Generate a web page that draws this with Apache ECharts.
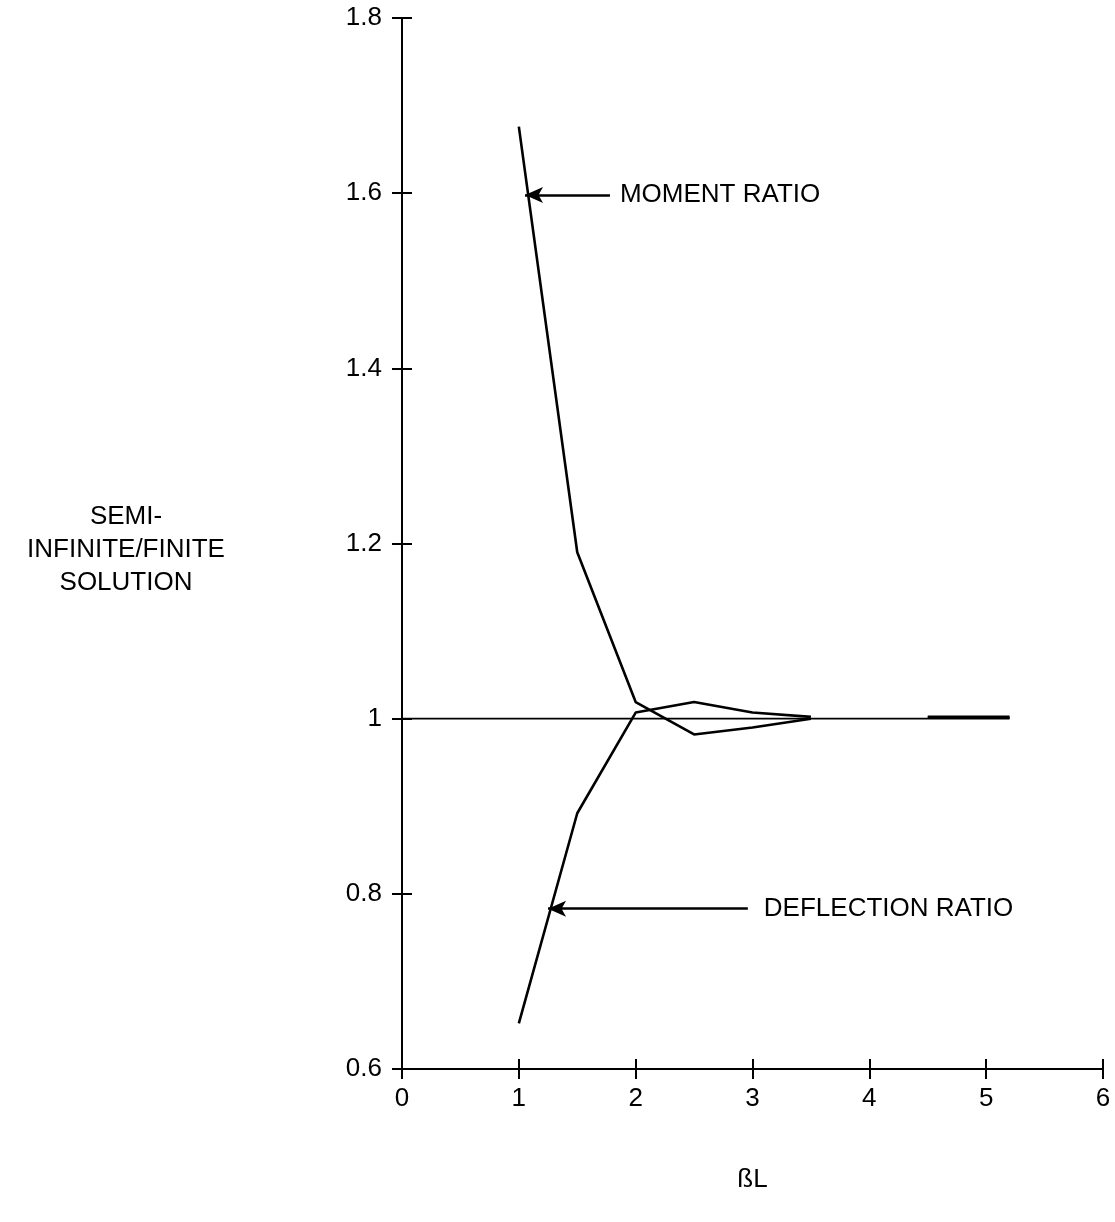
<!DOCTYPE html>
<html><head><meta charset="utf-8">
<script src="https://cdn.jsdelivr.net/npm/echarts@6/dist/echarts.min.js"></script>
<style>html,body{margin:0;padding:0;background:#fff}#c{width:1115px;height:1222px}</style>
</head><body><div id="c"></div>
<script>
// Data
const betaL      = [1, 1.5, 2, 2.5, 3, 3.5, 4, 4.5, 5.2];
const momentRatio     = [1.676, 1.19, 1.019, 0.982, 0.99, 1.0, '-', 1.002, 1.002];
const deflectionRatio = [0.652, 0.892, 1.007, 1.019, 1.007, 1.002, '-', 1.001, 1.001];
const baselineX = [0, 5.2];
const baselineY = [1, 1];
const xTicks = {min: 0, max: 6, interval: 1};
const yTicks = {min: 0.6, max: 1.8, interval: 0.2};
const momentArrow = {tip: [1.053, 1.598], tail: [1.78, 1.598], label: 'MOMENT RATIO', gap: 10};
const deflArrow = {tip: [1.25, 0.783], tail: [2.96, 0.783], label: 'DEFLECTION RATIO', gap: 16};

const FONT = '"Liberation Sans", Arial, Helvetica, sans-serif';
const pairs = (xs, ys) => xs.map((x, i) => [x, ys[i]]);
const arrowLine = (a) => ({
  silent: true,
  symbol: ['arrow', 'none'],
  symbolSize: [12, 18],
  lineStyle: {color: '#000', width: 2.5, type: 'solid'},
  label: {show: true, position: 'end', formatter: a.label, color: '#000', fontFamily: FONT, fontSize: 26, distance: a.gap},
  data: [[{coord: a.tip}, {coord: a.tail}]]
});

const chart = echarts.init(document.getElementById('c'), null, {renderer: 'canvas'});
const axisBase = {
  axisLine: {show: true, onZero: false, lineStyle: {color: '#000', width: 2}},
  splitLine: {show: false}
};
chart.setOption({
  animation: false,
  backgroundColor: '#fff',
  grid: {left: 402, right: 12, top: 18, bottom: 153},
  xAxis: [
    Object.assign({}, axisBase, {type: 'value', min: xTicks.min, max: xTicks.max, interval: xTicks.interval,
      axisTick: {show: true, length: 10, lineStyle: {color: '#000', width: 2}},
      axisLabel: {color: '#000', fontFamily: FONT, fontSize: 26, margin: 17},
      name: 'ßL', nameLocation: 'middle', nameGap: 98,
      nameTextStyle: {color: '#000', fontFamily: FONT, fontSize: 26}}),
    Object.assign({}, axisBase, {type: 'value', min: xTicks.min, max: xTicks.max, interval: xTicks.interval, position: 'bottom',
      axisTick: {show: true, inside: true, length: 10, lineStyle: {color: '#000', width: 2}},
      axisLabel: {show: false}})
  ],
  yAxis: [
    Object.assign({}, axisBase, {type: 'value', min: yTicks.min, max: yTicks.max, interval: yTicks.interval,
      axisTick: {show: true, length: 10, lineStyle: {color: '#000', width: 2}},
      axisLabel: {color: '#000', fontFamily: FONT, fontSize: 26, margin: 20}}),
    Object.assign({}, axisBase, {type: 'value', min: yTicks.min, max: yTicks.max, interval: yTicks.interval, position: 'left',
      axisTick: {show: true, inside: true, length: 10, lineStyle: {color: '#000', width: 2}},
      axisLabel: {show: false}})
  ],
  graphic: [{
    type: 'text', left: 6, top: 500,
    style: {text: 'SEMI-\nINFINITE/FINITE\nSOLUTION', fill: '#000', font: '26px ' + FONT,
      textAlign: 'center', lineHeight: 33, width: 240, x: 120}
  }],
  series: [
    {type: 'line', data: pairs(baselineX, baselineY), symbol: 'none', silent: true,
      lineStyle: {color: '#000', width: 1.6}},
    {type: 'line', name: 'Moment ratio', data: pairs(betaL, momentRatio), symbol: 'none', silent: true,
      connectNulls: false, lineStyle: {color: '#000', width: 2.6}, markLine: arrowLine(momentArrow)},
    {type: 'line', name: 'Deflection ratio', data: pairs(betaL, deflectionRatio), symbol: 'none', silent: true,
      connectNulls: false, lineStyle: {color: '#000', width: 2.6}, markLine: arrowLine(deflArrow)}
  ]
});
</script></body></html>
